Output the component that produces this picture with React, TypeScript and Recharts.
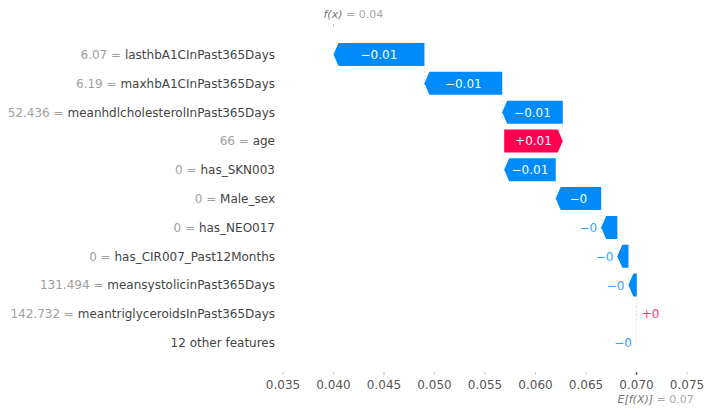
import React from 'react';
import { BarChart, Bar, XAxis, YAxis, ReferenceLine } from 'recharts';

const features = [
  'lasthbA1CInPast365Days',
  'maxhbA1CInPast365Days',
  'meanhdlcholesterolInPast365Days',
  'age',
  'has_SKN003',
  'Male_sex',
  'has_NEO017',
  'has_CIR007_Past12Months',
  'meansystolicinPast365Days',
  'meantriglyceroidsInPast365Days',
  '12 other features',
];
const featureValues = ['6.07', '6.19', '52.436', '66', '0', '0', '0', '0', '131.494', '142.732', ''];
const shapValues = [-0.009, -0.0077, -0.006, 0.0058, -0.0051, -0.0045, -0.0016, -0.0011, -0.00083, 0.00008, -0.00005];
const shapLabels = ['\u22120.01', '\u22120.01', '\u22120.01', '+0.01', '\u22120.01', '\u22120', '\u22120', '\u22120', '\u22120', '+0', '\u22120'];
const xTicks = [0.035, 0.04, 0.045, 0.05, 0.055, 0.06, 0.065, 0.07, 0.075];
const xTickLabels = ['0.035', '0.040', '0.045', '0.050', '0.055', '0.060', '0.065', '0.070', '0.075'];
const baseValue = 0.07;
const fxValue = 0.04;
const baseLabel = '0.07';
const fxLabel = '0.04';

const BLUE = '#008bfb';
const PINK = '#ff0051';
const FONT = '"DejaVu Sans", sans-serif';

// build waterfall table (bottom row starts at base value)
const data: any[] = [];
{
  let cur = baseValue;
  const rows: any[] = [];
  for (let i = features.length - 1; i >= 0; i--) {
    const start = cur;
    const end = cur + shapValues[i];
    rows[i] = {
      name: features[i],
      fval: featureValues[i],
      shap: shapValues[i],
      label: shapLabels[i],
      start,
      end,
      range: [Math.min(start, end), Math.max(start, end)],
      last: i === features.length - 1,
    };
    cur = end;
  }
  rows.forEach((r) => data.push(r));
}

const ArrowShape = (props: any) => {
  const { x, y, width, height, payload, background } = props;
  const left = Math.min(x, x + width);
  const right = Math.max(x, x + width);
  const w = right - left;
  const neg = payload.shap < 0;
  const hl = Math.min(5, w);
  const cy = y + height / 2;
  const color = neg ? BLUE : PINK;
  const pts = neg
    ? [[left, cy], [left + hl, y], [right, y], [right, y + height], [left + hl, y + height]]
    : [[left, y], [right - hl, y], [right, cy], [right - hl, y + height], [left, y + height]];
  const tw = payload.label.length * 7;
  const inside = w > tw + 12;
  const step = background && background.height ? background.height : 29;
  const connX = neg ? right : left;
  return (
    <g>
      {!payload.last && (
        <line x1={connX} x2={connX} y1={y} y2={y + step + height} stroke="#d8d8d8" strokeWidth={0.6} strokeDasharray="2 2" />
      )}
      {w > 0.9 && <polygon points={pts.map((p) => p.join(',')).join(' ')} fill={color} />}
      {inside ? (
        <text x={left + w / 2} y={cy + 4.5} textAnchor="middle" fill="#ffffff" fontSize={12} fontFamily={FONT}>
          {payload.label}
        </text>
      ) : neg ? (
        <text x={left - 4} y={cy + 4.5} textAnchor="end" fill={color} fontSize={12} fontFamily={FONT} opacity={0.8}>
          {payload.label}
        </text>
      ) : (
        <text x={right + 5} y={cy + 4.5} textAnchor="start" fill={color} fontSize={12} fontFamily={FONT} opacity={0.8}>
          {payload.label}
        </text>
      )}
    </g>
  );
};

const YTick = (props: any) => {
  const { x, y, payload } = props;
  const row = data.find((d) => d.name === payload.value);
  const fv = row ? row.fval : '';
  return (
    <text x={x} y={y + 4.5} textAnchor="end" fontSize={12} fontFamily={FONT}>
      {fv !== '' && <tspan fill="#a0a0a0">{fv} = </tspan>}
      <tspan fill="#444444">{payload.value}</tspan>
    </text>
  );
};

const XTick = (props: any) => {
  const { x, y, payload, index } = props;
  const isBase = Math.abs(payload.value - baseValue) < 1e-9;
  return (
    <g>
      <line x1={x} x2={x} y1={y + 1} y2={y + 4} stroke={isBase ? '#666' : '#bbb'} strokeWidth={isBase ? 1.5 : 0.8} />
      <text x={x} y={y + 18} textAnchor="middle" fill="#555" fontSize={12} fontFamily={FONT}>
        {xTickLabels[index] ?? String(payload.value)}
      </text>
    </g>
  );
};

const FxLabel = (props: any) => {
  const vb = props.viewBox || {};
  const x = vb.x;
  const top = vb.y;
  return (
    <g>
      <line x1={x} x2={x} y1={top - 16} y2={top - 13} stroke="#bbb" strokeWidth={0.8} />
      <text x={x} y={top - 22} fontSize={11} fontFamily={FONT} textAnchor="start">
        <tspan x={x - 10} fill="#777" fontStyle="italic">f(x)</tspan>
        <tspan fill="#aaa"> = {fxLabel}</tspan>
      </text>
    </g>
  );
};

const BaseLabel = (props: any) => {
  const vb = props.viewBox || {};
  const x = vb.x;
  const bottom = vb.y + vb.height;
  return (
    <text x={x - 19} y={bottom + 46} fontSize={11} fontFamily={FONT}>
      <tspan fill="#777" fontStyle="italic">E[f(X)]</tspan>
      <tspan fill="#aaa"> = {baseLabel}</tspan>
    </text>
  );
};

export default function App() {
  return (
    <div style={{ width: 705, height: 408, background: '#fff' }}>
      <style>{'body{margin:0;background:#fff}'}</style>
      <BarChart
        width={705}
        height={408}
        data={data}
        layout="vertical"
        margin={{ top: 40, right: 18, bottom: 0, left: 0 }}
        barCategoryGap={3}
        style={{ fontFamily: FONT }}
      >
        <XAxis
          type="number"
          domain={[0.035, 0.075]}
          ticks={xTicks}
          allowDataOverflow
          axisLine={false}
          tickLine={false}
          tickSize={6}
          tickMargin={8}
          height={51}
          tick={<XTick />}
          interval={0}
        />
        <YAxis
          type="category"
          dataKey="name"
          width={283}
          axisLine={false}
          tickLine={false}
          tickSize={6}
          tickMargin={2}
          tick={<YTick />}
          interval={0}
        />
        <ReferenceLine x={fxValue} stroke="none" label={<FxLabel />} ifOverflow="visible" />
        <ReferenceLine x={baseValue} stroke="none" label={<BaseLabel />} ifOverflow="visible" />
        <Bar dataKey="range" barSize={23} shape={<ArrowShape />} isAnimationActive={false} />
      </BarChart>
    </div>
  );
}
